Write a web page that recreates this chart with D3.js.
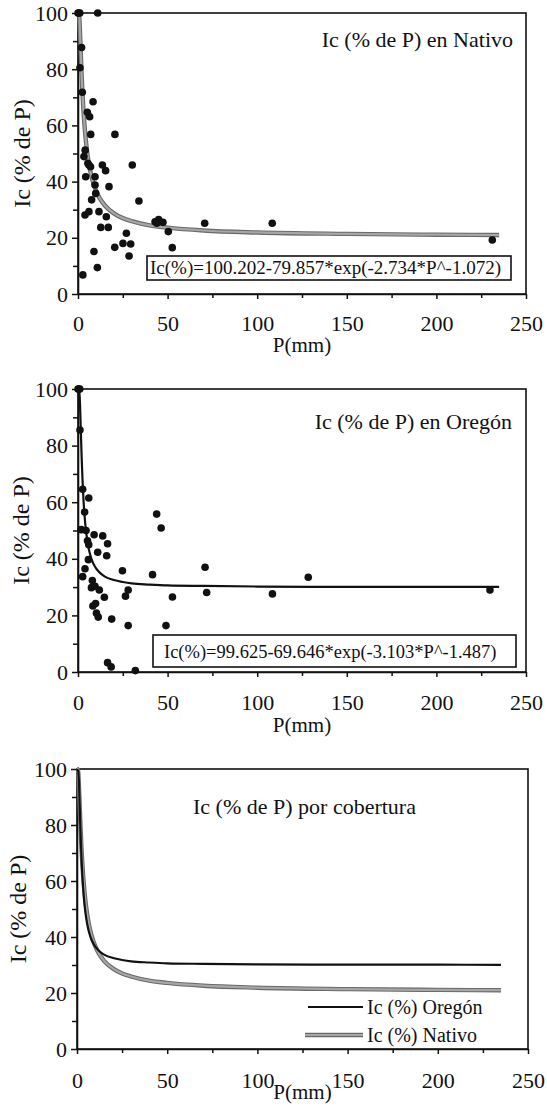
<!DOCTYPE html>
<html>
<head>
<meta charset="utf-8">
<script src="https://cdn.jsdelivr.net/npm/d3@7"></script>
<style>
    body { margin: 0; background: #fff; }
    svg { display: block; }
    text { font-family: "Liberation Serif", "Times New Roman", serif; }
</style>
</head>
<body>
<div id="chartContainer"></div>
<script>
// Tick values
const xTicks = [0, 50, 100, 150, 200, 250];
const xMinorTicks = [25, 75, 125, 175, 225];
const yTicks = [0, 20, 40, 60, 80, 100];
const yMinorTicks = [10, 30, 50, 70, 90];

// Observed points, Nativo (P mm, Ic %)
const nativoP = [0, 0.5, 1, 11, 2, 1.1, 2.4, 8.4, 5.2, 6.5, 7.1, 20.6, 4, 3.3, 5.5, 6.1, 7, 13.6, 15.4, 30.3,
    4.3, 9.5, 9.5, 17.3, 9.9, 7.6, 34, 3.9, 6.1, 11.7, 15.8, 12.7, 16.9, 43, 45, 47.4, 44, 50.4, 52.6, 27,
    25.1, 29.4, 20.5, 28.5, 8.9, 10.8, 2.7, 70.7, 108.4, 231.2];
const nativoIc = [100, 100, 100, 100, 87.7, 80.5, 71.8, 68.4, 64.7, 63.1, 56.8, 56.8, 51.2, 48.9, 46.5, 45.9, 45.3, 45.9, 43.9, 45.9,
    41.7, 41.7, 38.8, 38.2, 35.8, 33.5, 33.1, 28.1, 29.3, 29.3, 27.5, 23.7, 23.7, 25.7, 26.5, 25.5, 25.2, 22.2, 16.5, 21.6,
    18, 17.8, 16.6, 13.5, 15.1, 9.4, 6.8, 25.2, 25.2, 19.2];

// Observed points, Oregón (P mm, Ic %)
const oregonP = [0, 0.5, 1, 1.1, 2.6, 6, 3.7, 1.8, 4.5, 9, 13.8, 16.5, 5.3, 6, 11, 16, 5.8, 3.9, 2.6, 8,
    9.5, 11.9, 7.5, 14.7, 8.3, 9.8, 10.3, 11.3, 18.8, 24.8, 28, 26.5, 28, 41.6, 43.9, 46.4, 49.1, 52.7, 70.9, 71.8,
    108.5, 128.5, 229.9, 16.5, 18.5, 32];
const oregonIc = [100, 100, 100, 85.5, 64.6, 61.5, 56.5, 50.3, 50, 48.5, 48.1, 45.3, 46.4, 45, 42.3, 41.1, 39.7, 36.5, 33.7, 32.3,
    30.3, 29, 29.8, 26.4, 23.3, 24.2, 20.8, 19.4, 18.7, 35.8, 29, 26.8, 16.4, 34.4, 55.8, 50.9, 16.4, 26.5, 37, 28.1,
    27.6, 33.5, 29, 3.3, 1.8, 0.5];

// Fitted curves read along P
const curveP = [0, 0.5, 0.75, 1, 1.5, 2, 2.5, 3, 4, 5, 6, 7, 8, 10, 12, 15, 20, 25, 30, 40, 50, 70, 100, 150, 200, 235];
const curveNativo = [100, 99.9, 98.3, 95.0, 86.6, 78.5, 71.5, 65.8, 57.2, 51.1, 46.7, 43.3, 40.7, 36.9, 34.2, 31.5, 28.7, 27.0, 25.9, 24.4, 23.6, 22.6, 21.9, 21.4, 21.1, 21.0];
const curveOregon = [99.6, 99.6, 99.0, 96.5, 86.9, 76.6, 68.2, 61.6, 52.7, 47.2, 43.5, 41.0, 39.1, 36.7, 35.2, 33.7, 32.5, 31.8, 31.3, 30.9, 30.6, 30.4, 30.2, 30.1, 30.1, 30.05];

// Text
const yTitle = "Ic (% de P)";
const xTitle = "P(mm)";
const titles = ["Ic (% de P) en Nativo", "Ic (% de P) en Oregón", "Ic (% de P) por cobertura"];
const equations = ["Ic(%)=100.202-79.857*exp(-2.734*P^-1.072)", "Ic(%)=99.625-69.646*exp(-3.103*P^-1.487)"];
const legendLabels = ["Ic (%) Oregón", "Ic (%) Nativo"];

const serif = "'Liberation Serif', 'Times New Roman', serif";
const width = 547, height = 1114;

const svg = d3.select("#chartContainer")
    .append("svg")
    .attr("width", width)
    .attr("height", height)
    .attr("font-family", serif);

svg.append("rect").attr("width", width).attr("height", height).attr("fill", "#fff");

// Panel layout
const panels = [
    { left: 78, right: 526, top: 13, bottom: 294, labelGap: 21, xTitleY: 352, yTitleX: 30,
      title: titles[0], titleX: 513, titleY: 47, titleAnchor: "end",
      eq: equations[0], box: [147, 256, 511, 280], eqX: 150, eqY: 274, eqSize: 19 },
    { left: 78, right: 526, top: 389, bottom: 672, labelGap: 22, xTitleY: 732, yTitleX: 29,
      title: titles[1], titleX: 512, titleY: 429, titleAnchor: "end",
      eq: equations[1], box: [153, 635, 516, 667], eqX: 164, eqY: 658, eqSize: 18.5 },
    { left: 77, right: 528, top: 769, bottom: 1049, labelGap: 23, xTitleY: 1099, yTitleX: 26,
      title: titles[2], titleX: 193, titleY: 814, titleAnchor: "start" }
];

function drawLine(g, line, pts, gray) {
    if (gray) {
        g.append("path").attr("d", line(pts)).attr("fill", "none")
            .attr("stroke", "#6a6a6a").attr("stroke-width", 4.4);
        g.append("path").attr("d", line(pts)).attr("fill", "none")
            .attr("stroke", "#a6a6a6").attr("stroke-width", 2.2);
    } else {
        g.append("path").attr("d", line(pts)).attr("fill", "none")
            .attr("stroke", "#111").attr("stroke-width", 2.2);
    }
}

function drawPanel(cfg) {
    const x = d3.scaleLinear().domain([0, 250]).range([cfg.left, cfg.right]);
    const y = d3.scaleLinear().domain([0, 100]).range([cfg.bottom, cfg.top]);
    const g = svg.append("g");

    // Frame
    g.append("rect")
        .attr("x", cfg.left).attr("y", cfg.top)
        .attr("width", cfg.right - cfg.left).attr("height", cfg.bottom - cfg.top)
        .attr("fill", "none").attr("stroke", "#111").attr("stroke-width", 1.6);

    // y axis, major and minor ticks
    g.append("g")
        .attr("transform", "translate(" + cfg.left + ",0)")
        .call(d3.axisLeft(y).tickValues(yTicks).tickSize(6).tickSizeOuter(0).tickPadding(4));
    g.append("g")
        .attr("class", "minor")
        .attr("transform", "translate(" + cfg.left + ",0)")
        .call(d3.axisLeft(y).tickValues(yMinorTicks).tickSize(5).tickFormat(""));

    // x axis, major and minor ticks
    g.append("g")
        .attr("transform", "translate(0," + cfg.bottom + ")")
        .call(d3.axisBottom(x).tickValues(xTicks).tickSize(5).tickSizeOuter(0).tickPadding(cfg.labelGap - 5));
    g.append("g")
        .attr("class", "minor")
        .attr("transform", "translate(0," + cfg.bottom + ")")
        .call(d3.axisBottom(x).tickValues(xMinorTicks).tickSize(4).tickFormat(""));

    // d3 axes set their own sans-serif font; put the serif back
    g.selectAll("g").attr("font-family", serif).attr("font-size", 22);
    g.selectAll(".minor .domain").remove();
    g.selectAll(".domain").attr("stroke", "#111").attr("stroke-width", 1.6);
    g.selectAll(".tick line").attr("stroke", "#111").attr("stroke-width", 1.5);
    g.selectAll(".tick text").attr("fill", "#111");

    // Axis titles
    g.append("text")
        .attr("x", (cfg.left + cfg.right) / 2)
        .attr("y", cfg.xTitleY)
        .attr("text-anchor", "middle")
        .attr("font-size", 21)
        .attr("fill", "#111")
        .text(xTitle);

    g.append("text")
        .attr("transform", "translate(" + cfg.yTitleX + "," + ((cfg.top + cfg.bottom) / 2) + ") rotate(-90)")
        .attr("text-anchor", "middle")
        .attr("font-size", 24)
        .attr("fill", "#111")
        .text(yTitle);

    // Panel title
    g.append("text")
        .attr("x", cfg.titleX)
        .attr("y", cfg.titleY)
        .attr("text-anchor", cfg.titleAnchor)
        .attr("font-size", 22)
        .attr("fill", "#111")
        .text(cfg.title);

    // Equation box
    if (cfg.eq) {
        g.append("rect")
            .attr("x", cfg.box[0]).attr("y", cfg.box[1])
            .attr("width", cfg.box[2] - cfg.box[0]).attr("height", cfg.box[3] - cfg.box[1])
            .attr("fill", "#fff").attr("stroke", "#111").attr("stroke-width", 1.6);
        g.append("text")
            .attr("x", cfg.eqX)
            .attr("y", cfg.eqY)
            .attr("font-size", cfg.eqSize)
            .attr("fill", "#111")
            .text(cfg.eq);
    }

    return { g: g, x: x, y: y };
}

const p1 = drawPanel(panels[0]);
const p2 = drawPanel(panels[1]);
const p3 = drawPanel(panels[2]);

function lineFor(p) {
    return d3.line()
        .x(d => p.x(d[0]))
        .y(d => p.y(d[1]))
        .curve(d3.curveMonotoneX);
}

const nativoCurve = curveP.map((v, i) => [v, curveNativo[i]]);
const oregonCurve = curveP.map((v, i) => [v, curveOregon[i]]);

// Panel 1: Nativo
drawLine(p1.g, lineFor(p1), nativoCurve, true);
p1.g.selectAll(".pt")
    .data(nativoP.map((v, i) => [v, nativoIc[i]]))
    .enter()
    .append("circle")
    .attr("cx", d => p1.x(d[0]))
    .attr("cy", d => p1.y(d[1]))
    .attr("r", 3.8)
    .attr("fill", "#111");

// Panel 2: Oregón
drawLine(p2.g, lineFor(p2), oregonCurve, false);
p2.g.selectAll(".pt")
    .data(oregonP.map((v, i) => [v, oregonIc[i]]))
    .enter()
    .append("circle")
    .attr("cx", d => p2.x(d[0]))
    .attr("cy", d => p2.y(d[1]))
    .attr("r", 3.8)
    .attr("fill", "#111");

// Panel 3: both curves
drawLine(p3.g, lineFor(p3), nativoCurve, true);
drawLine(p3.g, lineFor(p3), oregonCurve, false);

// Legend
const legend = p3.g.append("g");
legend.append("line").attr("x1", 308).attr("x2", 363).attr("y1", 1007).attr("y2", 1007)
    .attr("stroke", "#111").attr("stroke-width", 2.2);
legend.append("line").attr("x1", 305).attr("x2", 363).attr("y1", 1035).attr("y2", 1035)
    .attr("stroke", "#6a6a6a").attr("stroke-width", 4.4);
legend.append("line").attr("x1", 305).attr("x2", 363).attr("y1", 1035).attr("y2", 1035)
    .attr("stroke", "#a6a6a6").attr("stroke-width", 2.2);
legend.selectAll("text")
    .data(legendLabels)
    .enter()
    .append("text")
    .attr("x", 367)
    .attr("y", (d, i) => 1014 + i * 28)
    .attr("font-size", 20)
    .attr("fill", "#111")
    .text(d => d);
</script>
</body>
</html>
